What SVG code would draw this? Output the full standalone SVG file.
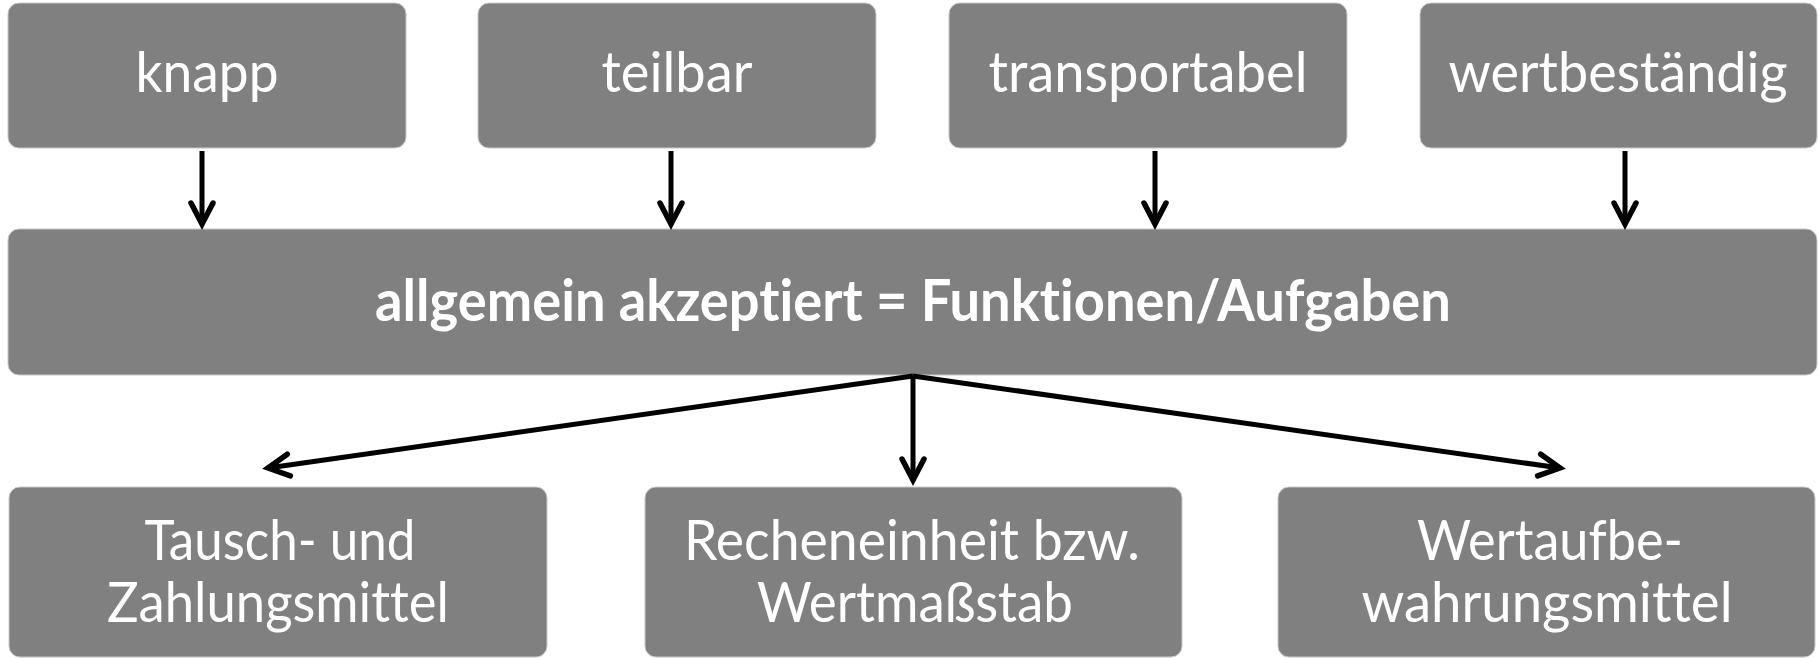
<svg xmlns="http://www.w3.org/2000/svg" width="1819" height="658" viewBox="0 0 1819 658">
  <defs>
    <marker id="arr" markerUnits="userSpaceOnUse" orient="auto" refX="0" refY="0" overflow="visible" markerWidth="30" markerHeight="30">
      <path d="M-21,-11 L0,0 L-21,11" fill="none" stroke="#000" stroke-width="5.5" stroke-linecap="round" stroke-linejoin="miter"/>
    </marker>
  </defs>
  <style>
    .box { fill: #808080; stroke: #c8c8c8; stroke-width: 1; }
    .t { font-family: Lato, "Open Sans", "Liberation Sans", sans-serif; font-size: 57px; fill: #ffffff; text-anchor: middle; font-variant-ligatures: none; font-feature-settings: "liga" 0, "clig" 0; }
    .b { font-weight: bold; }
    .c { fill: none; stroke: #000; stroke-width: 5; marker-end: url(#arr); }
  </style>
  <rect width="1819" height="658" fill="#ffffff"/>
  <g id="knapp">
    <rect class="box" x="8" y="3" width="398" height="145" rx="11"/>
    <text class="t" x="207" y="92" textLength="143" lengthAdjust="spacingAndGlyphs">knapp</text>
  </g>
  <g id="teilbar">
    <rect class="box" x="478" y="3" width="398" height="145" rx="11"/>
    <text class="t" x="677" y="92" textLength="151" lengthAdjust="spacingAndGlyphs">teilbar</text>
  </g>
  <g id="transportabel">
    <rect class="box" x="949" y="3" width="398" height="145" rx="11"/>
    <text class="t" x="1148" y="92" textLength="319" lengthAdjust="spacingAndGlyphs">transportabel</text>
  </g>
  <g id="wertbestaendig">
    <rect class="box" x="1420" y="3" width="397" height="145" rx="11"/>
    <text class="t" x="1618" y="92" textLength="339" lengthAdjust="spacingAndGlyphs">wertbeständig</text>
  </g>
  <g id="allgemein">
    <rect class="box" x="8" y="229" width="1809" height="146" rx="11"/>
    <text class="t b" x="913" y="321" textLength="1076" lengthAdjust="spacingAndGlyphs">allgemein akzeptiert = Funktionen/Aufgaben</text>
  </g>
  <g id="tausch">
    <rect class="box" x="9" y="487" width="538" height="170" rx="11"/>
    <text class="t" x="280" y="560" textLength="271" lengthAdjust="spacingAndGlyphs">Tausch- und</text>
    <text class="t" x="278" y="622" textLength="342" lengthAdjust="spacingAndGlyphs">Zahlungsmittel</text>
  </g>
  <g id="rechen">
    <rect class="box" x="645" y="487" width="537" height="170" rx="11"/>
    <text class="t" x="912" y="560" textLength="456" lengthAdjust="spacingAndGlyphs">Recheneinheit bzw.</text>
    <text class="t" x="915" y="622" textLength="316" lengthAdjust="spacingAndGlyphs">Wertmaßstab</text>
  </g>
  <g id="wertauf">
    <rect class="box" x="1278" y="487" width="537" height="170" rx="11"/>
    <text class="t" x="1550" y="560" textLength="266" lengthAdjust="spacingAndGlyphs">Wertaufbe-</text>
    <text class="t" x="1547" y="622" textLength="371" lengthAdjust="spacingAndGlyphs">wahrungsmittel</text>
  </g>
  <g id="connectors">
    <line class="c" x1="202" y1="151" x2="202" y2="224"/>
    <line class="c" x1="671" y1="151" x2="671" y2="224"/>
    <line class="c" x1="1155" y1="151" x2="1155" y2="224"/>
    <line class="c" x1="1625" y1="151" x2="1625" y2="224"/>
    <line class="c" x1="913" y1="376" x2="268" y2="468"/>
    <line class="c" x1="913" y1="376" x2="913" y2="480"/>
    <line class="c" x1="913" y1="376" x2="1560" y2="468"/>
  </g>
</svg>
